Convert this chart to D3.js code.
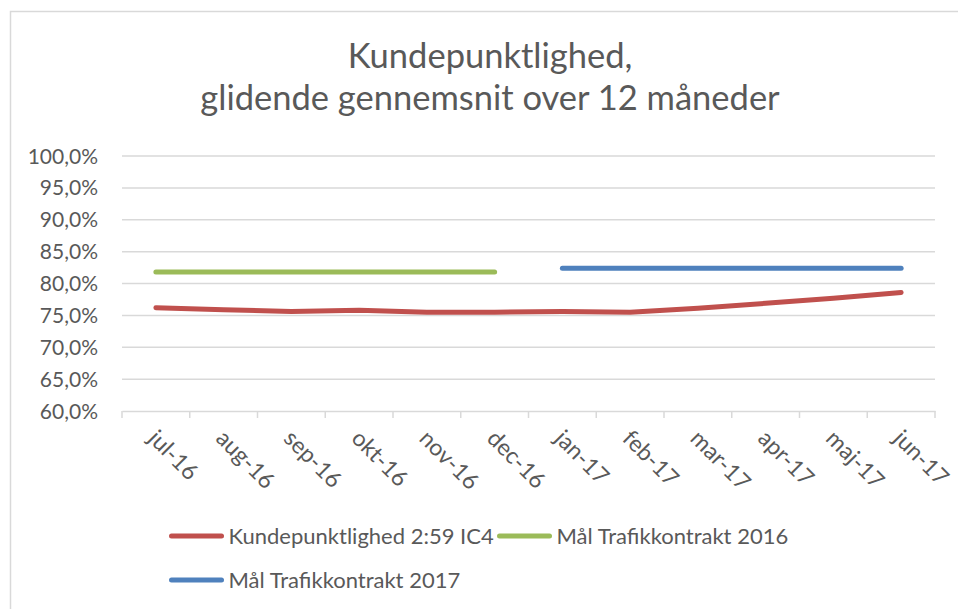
<!DOCTYPE html>
<html>
<head>
<meta charset="utf-8">
<script src="https://cdn.jsdelivr.net/npm/d3@7"></script>
<style>
  body { margin: 0; background: #fff; }
  text { font-family: Lato, "Open Sans", sans-serif; fill: #595959; }
</style>
</head>
<body>
<div id="chart"></div>
<script>
// data
var months = ['jul-16','aug-16','sep-16','okt-16','nov-16','dec-16',
              'jan-17','feb-17','mar-17','apr-17','maj-17','jun-17'];
var kundepunktlighed = [76.2, 75.9, 75.6, 75.8, 75.5, 75.5, 75.6, 75.5, 76.1, 76.9, 77.7, 78.6];
var maal2016 = [81.8, 81.8, 81.8, 81.8, 81.8, 81.8, null, null, null, null, null, null];
var maal2017 = [null, null, null, null, null, null, 82.4, 82.4, 82.4, 82.4, 82.4, 82.4];
var yTicks = [60, 65, 70, 75, 80, 85, 90, 95, 100];
var titleLines = ['Kundepunktlighed,', 'glidende gennemsnit over 12 måneder'];

var series = [
    {name: 'Kundepunktlighed 2:59 IC4', values: kundepunktlighed, color: '#C0504D'},
    {name: 'Mål Trafikkontrakt 2016', values: maal2016, color: '#9BBB59'},
    {name: 'Mål Trafikkontrakt 2017', values: maal2017, color: '#4F81BD'}
];

var width = 958, height = 609;
var margin = {top: 156, right: 23, bottom: 198, left: 122};

var svg = d3.select('#chart').append('svg')
    .attr('width', width)
    .attr('height', height);

// chart area border
svg.append('rect')
    .attr('x', 10.5).attr('y', 11.5)
    .attr('width', width + 20).attr('height', height + 20)
    .attr('fill', 'none')
    .attr('stroke', '#d9d9d9')
    .attr('stroke-width', 1.5);

// title
svg.selectAll('.title')
    .data(titleLines)
    .enter()
    .append('text')
    .attr('class', 'title')
    .attr('x', 490)
    .attr('y', function(d, i) { return 68 + i * 42; })
    .attr('text-anchor', 'middle')
    .style('font-size', '34.5px')
    .text(function(d) { return d; });

var x = d3.scaleBand()
    .domain(months)
    .range([margin.left, width - margin.right]);

var y = d3.scaleLinear()
    .domain([60, 100])
    .range([height - margin.bottom, margin.top]);

// gridlines
svg.selectAll('.grid')
    .data(yTicks.slice(1))
    .enter()
    .append('line')
    .attr('x1', margin.left)
    .attr('x2', width - margin.right)
    .attr('y1', function(d) { return y(d); })
    .attr('y2', function(d) { return y(d); })
    .attr('stroke', '#d9d9d9')
    .attr('stroke-width', 1.5);

// y axis labels
svg.selectAll('.ylab')
    .data(yTicks)
    .enter()
    .append('text')
    .attr('x', 98)
    .attr('y', function(d) { return y(d); })
    .attr('dy', '0.36em')
    .attr('text-anchor', 'end')
    .style('font-size', '21px')
    .text(function(d) { return d.toFixed(1).replace('.', ',') + '%'; });

// x axis line and tick marks
var xAxis = d3.axisBottom(x)
    .tickValues([])
    .tickSizeOuter(0);
var gx = svg.append('g')
    .attr('transform', 'translate(0,' + y(60) + ')')
    .call(xAxis);
gx.select('.domain').attr('stroke', '#d9d9d9').attr('stroke-width', 1.5);

var boundaries = months.map(function(m) { return x(m); }).concat([width - margin.right]);
gx.selectAll('.btick')
    .data(boundaries)
    .enter()
    .append('line')
    .attr('x1', function(d) { return d; })
    .attr('x2', function(d) { return d; })
    .attr('y1', 0)
    .attr('y2', 7)
    .attr('stroke', '#d9d9d9')
    .attr('stroke-width', 1.5);

// rotated category labels
svg.selectAll('.xlab')
    .data(months)
    .enter()
    .append('text')
    .attr('transform', function(d) {
        return 'translate(' + (x(d) + x.bandwidth() / 2 - 3) + ',' + 434 + ') rotate(45)';
    })
    .attr('dy', '0.36em')
    .attr('text-anchor', 'start')
    .style('font-size', '23px')
    .text(function(d) { return d; });

// lines
var line = d3.line()
    .defined(function(d) { return d != null; })
    .x(function(d, i) { return x(months[i]) + x.bandwidth() / 2; })
    .y(function(d) { return y(d); });

svg.selectAll('.series')
    .data(series)
    .enter()
    .append('path')
    .attr('d', function(s) { return line(s.values); })
    .attr('fill', 'none')
    .attr('stroke', function(s) { return s.color; })
    .attr('stroke-width', 5)
    .attr('stroke-linecap', 'round')
    .attr('stroke-linejoin', 'round');

// legend
var legendPos = [{x: 169, y: 536}, {x: 497, y: 536}, {x: 169, y: 580}];
var legend = svg.selectAll('.legend')
    .data(series)
    .enter()
    .append('g')
    .attr('transform', function(d, i) { return 'translate(' + legendPos[i].x + ',' + legendPos[i].y + ')'; });

legend.append('line')
    .attr('x1', 2.5).attr('x2', 52.5)
    .attr('y1', 0).attr('y2', 0)
    .attr('stroke', function(d) { return d.color; })
    .attr('stroke-width', 5)
    .attr('stroke-linecap', 'round');

legend.append('text')
    .attr('x', 59.5)
    .attr('dy', '0.36em')
    .style('font-size', '22px')
    .text(function(d) { return d.name; });
</script>
</body>
</html>
